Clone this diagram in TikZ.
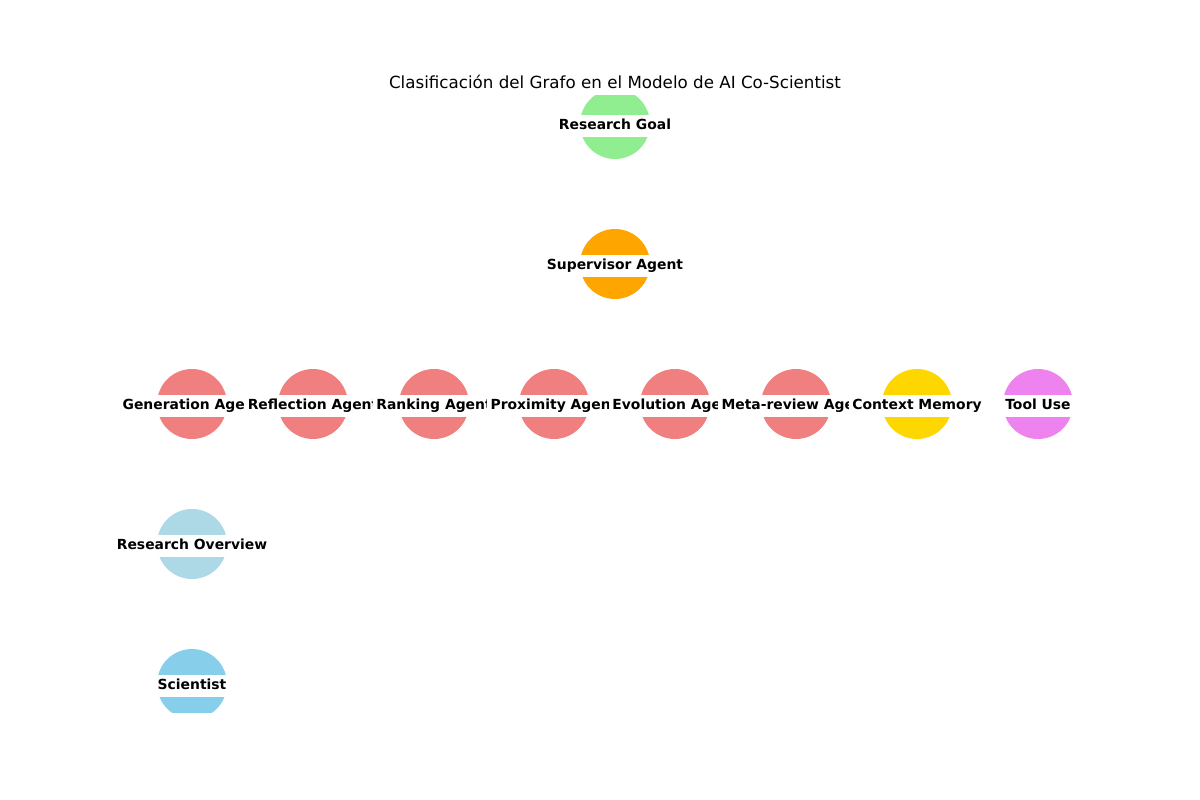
\documentclass[tikz,border=0pt]{standalone}
\usepackage{fontspec}
\setmainfont{DejaVu Sans}
\definecolor{lightcoral}{RGB}{240,128,128}
\definecolor{lightgreenc}{RGB}{144,238,144}
\definecolor{orangec}{RGB}{255,165,0}
\definecolor{goldc}{RGB}{255,215,0}
\definecolor{violetc}{RGB}{238,130,238}
\definecolor{lightbluec}{RGB}{173,216,230}
\definecolor{skybluec}{RGB}{135,206,235}
\begin{document}
\begin{tikzpicture}[x=1pt,y=-1pt,
  dot/.style={circle,minimum size=70pt,inner sep=0pt,draw=none},
  lab/.style={fill=white,inner xsep=3.7pt,inner ysep=4.5pt,text height=10.5pt,text depth=3pt,yshift=-1.8pt,
    font=\fontsize{13.9}{16}\selectfont\bfseries}]
\useasboundingbox (0,0) rectangle (1200,800);
\node[font=\fontsize{16.7}{20}\selectfont] (title) at (615,82) {Clasificación del Grafo en el Modelo de AI Co-Scientist};
\begin{scope}
\clip (150,96) rectangle (1080,712);
\node[dot,fill=lightgreenc] (goal) at (615,124) {};
\node[dot,fill=orangec] (sup) at (615,264) {};
\node[dot,fill=lightcoral] (gen) at (192,404) {};
\node[dot,fill=lightcoral] (ref) at (313,404) {};
\node[dot,fill=lightcoral] (rank) at (434,404) {};
\node[dot,fill=lightcoral] (prox) at (554,404) {};
\node[dot,fill=lightcoral] (evo) at (675,404) {};
\node[dot,fill=lightcoral] (meta) at (796,404) {};
\node[dot,fill=goldc] (ctx) at (917,404) {};
\node[dot,fill=violetc] (tool) at (1038,404) {};
\node[dot,fill=lightbluec] (ov) at (192,544) {};
\node[dot,fill=skybluec] (sci) at (192,684) {};
\end{scope}
\node[lab] (lgoal) at (goal) {Research Goal};
\node[lab] (lsup) at (sup) {Supervisor Agent};
\node[lab] (lgen) at (gen) {Generation Agent};
\node[lab] (lref) at (ref) {Reflection Agent};
\node[lab] (lrank) at (rank) {Ranking Agent};
\node[lab] (lprox) at (prox) {Proximity Agent};
\node[lab] (levo) at (evo) {Evolution Agent};
\node[lab] (lmeta) at (meta) {Meta-review Agent};
\node[lab] (lctx) at (ctx) {Context Memory};
\node[lab] (ltool) at (tool) {Tool Use};
\node[lab] (lov) at (ov) {Research Overview};
\node[lab] (lsci) at (sci) {Scientist};
\end{tikzpicture}
\end{document}
